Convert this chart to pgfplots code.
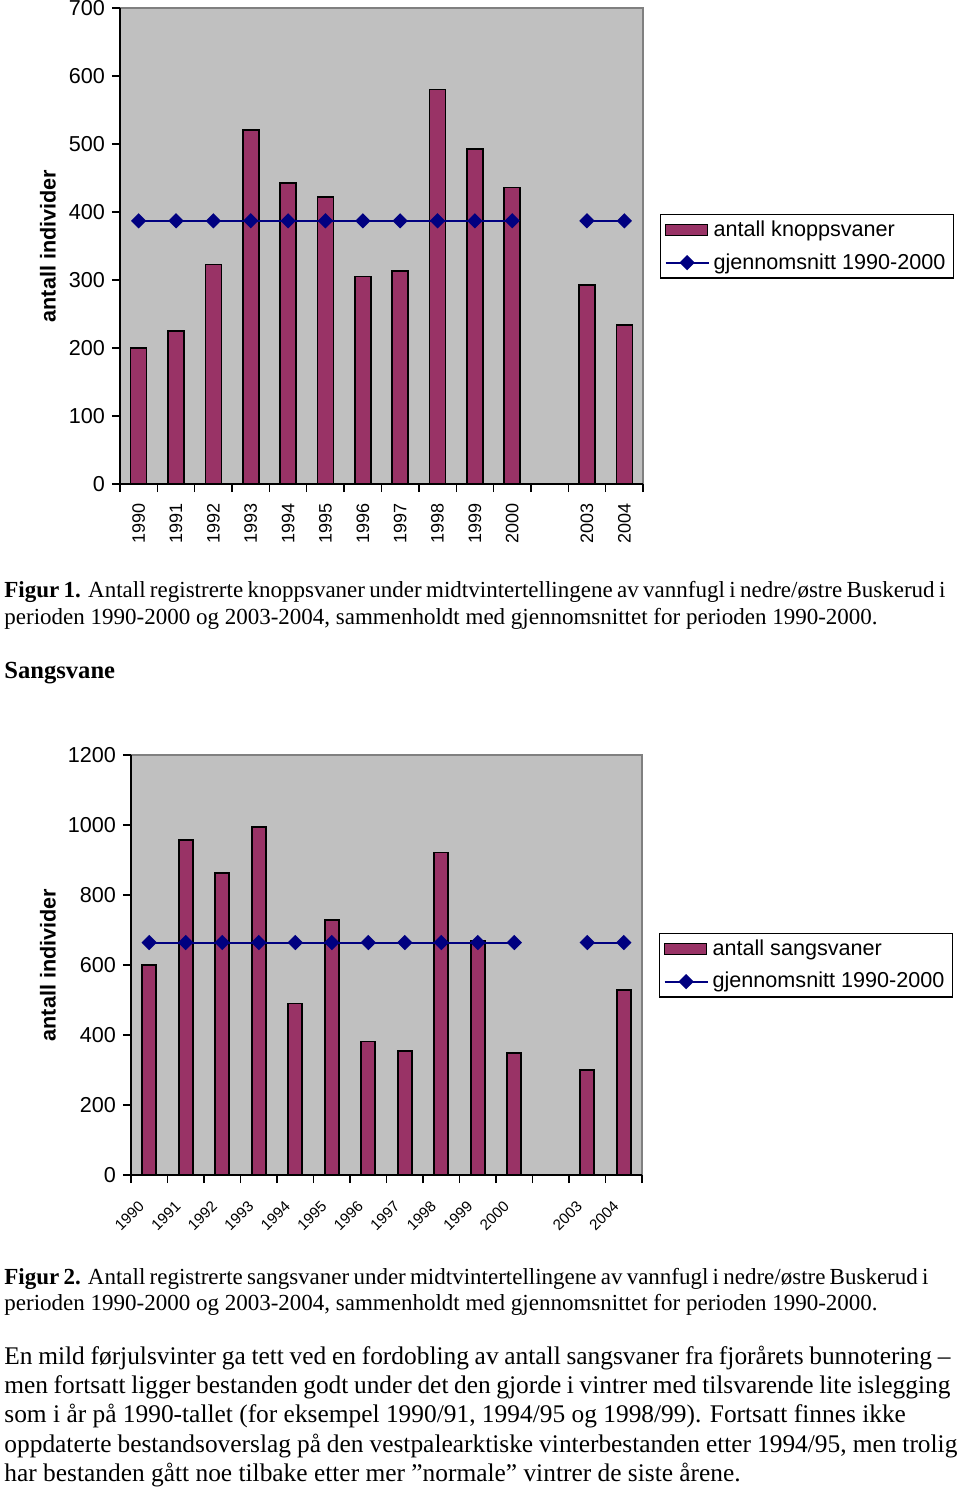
\documentclass[border=0pt]{standalone}
\usepackage{pgfplots}
\pgfplotsset{compat=1.18}
\usepackage{fontspec}
\setmainfont{Liberation Serif}
\newfontfamily\arial{Liberation Sans}
\definecolor{plum}{HTML}{993366}
\definecolor{navyb}{HTML}{000080}
\definecolor{chartgrey}{HTML}{C0C0C0}
\definecolor{bordergrey}{HTML}{808080}
\pgfplotsset{
  excelchart/.style={
    scale only axis,
    anchor=north west,
    xmin=-0.5, xmax=13.5, ymin=0,
    axis background/.style={fill=chartgrey, draw=bordergrey, line width=0.6pt},
    axis x line*=bottom, axis y line*=left,
    axis line style={-, black, line width=0.8pt},
    tick align=outside, major tick length=4pt,
    tick style={black, line width=0.7pt},
    xtick={-0.5,0.5,1.5,2.5,3.5,4.5,5.5,6.5,7.5,8.5,9.5,10.5,11.5,12.5,13.5},
    xticklabels={,,,,,,,,,,,,,,,},
    unbounded coords=jump,
    /pgf/number format/assume math mode=true,
    /pgf/number format/1000 sep={},
    yticklabel style={font=\arial\fontsize{10.8}{12}\selectfont},
    legend style={draw=black, fill=white, line width=0.6pt, font=\arial\fontsize{10.8}{12}\selectfont,
      anchor=north west, inner xsep=2pt, inner ysep=1pt, row sep=3pt, cells={anchor=west}},
    every axis y label/.style={rotate=90, anchor=center, font=\arial\bfseries\fontsize{10.8}{12}\selectfont},
  },
  barstyle/.style={ybar, bar width=8pt, fill=plum, draw=black, line width=0.8pt,
    legend image code/.code={\draw[fill=plum, draw=black, line width=0.8pt] (0pt,-2.8pt) rectangle (21pt,2.8pt);}},
  linestyle/.style={navyb, line width=1pt, mark=square*, mark size=2.2pt,
    mark options={rotate=45, fill=navyb, solid},
    legend image code/.code={\draw[mark repeat=2, mark phase=2, ##1] plot coordinates {(0pt,0pt) (10.75pt,0pt) (21.5pt,0pt)};}},
}
\begin{document}
\begin{tikzpicture}
\useasboundingbox (0,0) rectangle (480pt,-744.5pt);
% ---------- Chart 1 ----------
\begin{axis}[excelchart,
  at={(60pt,-4pt)}, width=261.5pt, height=238pt,
  ymax=700, ytick={0,100,...,700},
  extra x ticks={0,1,2,3,4,5,6,7,8,9,10,12,13},
  extra x tick labels={1990,1991,1992,1993,1994,1995,1996,1997,1998,1999,2000,2003,2004},
  extra x tick style={major tick length=0pt, tick label style={rotate=90, anchor=east, inner sep=0pt, font=\arial\fontsize{9}{10}\selectfont, xshift=-9.5pt}},
  ylabel={antall individer},
  ylabel style={at={(axis description cs:-0.1377,0.5)}},
  legend style={at={(1.0325,0.567)}},
]
\addplot[barstyle] coordinates {(0,200) (1,225) (2,323) (3,521) (4,443) (5,422) (6,305) (7,313) (8,580) (9,493) (10,436) (12,293) (13,234)};
\addlegendentry{antall knoppsvaner}
\addplot[linestyle] coordinates {(0,387) (1,387) (2,387) (3,387) (4,387) (5,387) (6,387) (7,387) (8,387) (9,387) (10,387) (11,nan) (12,387) (13,387)};
\addlegendentry{gjennomsnitt 1990-2000}
\end{axis}
% ---------- Chart 2 ----------
\begin{axis}[excelchart,
  at={(65.5pt,-377.5pt)}, width=255.5pt, height=210pt,
  ymax=1200, ytick={0,200,...,1200},
  extra x ticks={-0.32,0.68,1.68,2.68,3.68,4.68,5.68,6.68,7.68,8.68,9.68,11.68,12.68},
  extra x tick labels={1990,1991,1992,1993,1994,1995,1996,1997,1998,1999,2000,2003,2004},
  extra x tick style={major tick length=0pt, tick label style={rotate=45, anchor=north east, inner sep=0pt, font=\arial\fontsize{7.6}{9}\selectfont, xshift=-8.8pt, yshift=-8.8pt}},
  ylabel={antall individer},
  ylabel style={at={(axis description cs:-0.1624,0.5)}},
  legend style={at={(1.0333,0.576)}},
]
\addplot[barstyle, bar width=7pt] coordinates {(0,600) (1,958) (2,863) (3,995) (4,490) (5,728) (6,381) (7,355) (8,922) (9,669) (10,348) (12,300) (13,528)};
\addlegendentry{antall sangsvaner}
\addplot[linestyle] coordinates {(0,664) (1,664) (2,664) (3,664) (4,664) (5,664) (6,664) (7,664) (8,664) (9,664) (10,664) (11,nan) (12,664) (13,664)};
\addlegendentry{gjennomsnitt 1990-2000}
\end{axis}
% ---------- Text ----------
\begin{scope}[every node/.style={anchor=base west, inner sep=0pt}]
\node[font=\fontsize{11.5}{14}\selectfont] at (2pt,-298.8pt) {\hbox to 470.5pt{\textbf{Figur 1.} Antall registrerte knoppsvaner under midtvintertellingene av vannfugl i nedre/østre Buskerud i}};
\node[font=\fontsize{11.5}{14}\selectfont] at (2pt,-312pt) {perioden 1990-2000 og 2003-2004, sammenholdt med gjennomsnittet for perioden 1990-2000.};
\node[font=\bfseries\fontsize{12.3}{14}\selectfont] at (2pt,-339pt) {Sangsvane};
\node[font=\fontsize{11.5}{14}\selectfont] at (2pt,-642pt) {\hbox to 462pt{\textbf{Figur 2.} Antall registrerte sangsvaner under midtvintertellingene av vannfugl i nedre/østre Buskerud i}};
\node[font=\fontsize{11.5}{14}\selectfont] at (2pt,-655pt) {perioden 1990-2000 og 2003-2004, sammenholdt med gjennomsnittet for perioden 1990-2000.};
\node[font=\fontsize{12.7}{15}\selectfont] at (2pt,-682pt) {\hbox to 473pt{En mild førjulsvinter ga tett ved en fordobling av antall sangsvaner fra fjorårets bunnotering –}};
\node[font=\fontsize{12.7}{15}\selectfont] at (2pt,-696.7pt) {\hbox to 473pt{men fortsatt ligger bestanden godt under det den gjorde i vintrer med tilsvarende lite islegging}};
\node[font=\fontsize{12.7}{15}\selectfont] at (2pt,-711.4pt) {som i år på 1990-tallet (for eksempel 1990/91, 1994/95 og 1998/99). Fortsatt finnes ikke};
\node[font=\fontsize{12.7}{15}\selectfont] at (2pt,-726.1pt) {\hbox to 476.5pt{oppdaterte bestandsoverslag på den vestpalearktiske vinterbestanden etter 1994/95, men trolig}};
\node[font=\fontsize{12.7}{15}\selectfont] at (2pt,-740.8pt) {har bestanden gått noe tilbake etter mer ”normale” vintrer de siste årene.};
\end{scope}
\end{tikzpicture}
\end{document}
